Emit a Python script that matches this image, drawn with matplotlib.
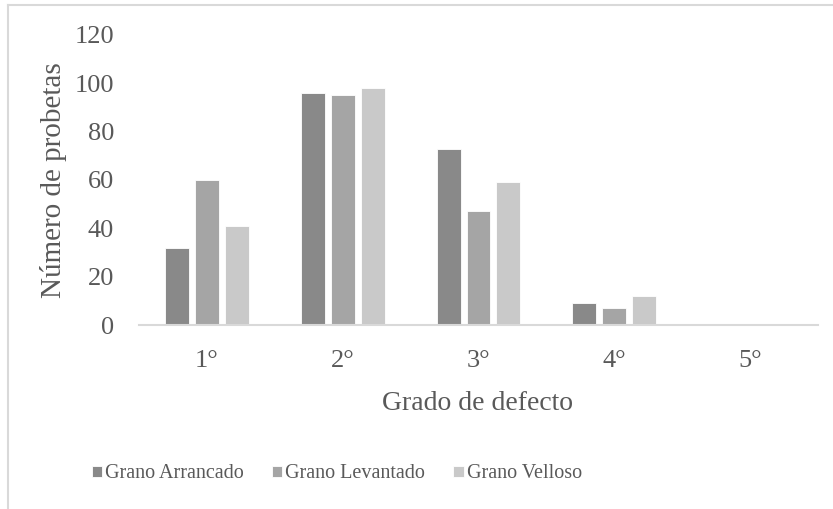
import numpy as np
import matplotlib.pyplot as plt
from matplotlib.lines import Line2D

plt.rcParams['font.family'] = ['Liberation Serif', 'DejaVu Serif']

grados = ['1°', '2°', '3°', '4°', '5°']
series = ['Grano Arrancado', 'Grano Levantado', 'Grano Velloso']
arrancado = [32, 96, 73, 9, 0]
levantado = [60, 95, 47, 7, 0]
velloso = [41, 98, 59, 12, 0]
colores = ['#898989', '#a5a5a5', '#c9c9c9']
texto = '#595959'

fig = plt.figure(figsize=(8.33, 5.09), dpi=100)
ax = fig.add_axes([139/833, 1 - 325/509, 679/833, 290/509])

x = np.arange(len(grados))
ancho = 0.176
paso = 0.22
for k, (vals, nombre) in enumerate(zip([arrancado, levantado, velloso], series)):
    ax.bar(x + (k - 1) * paso, vals, width=ancho, color=colores[k],
           edgecolor='white', linewidth=0.6, label=nombre, zorder=2)

ax.set_xlim(-0.5, len(grados) - 0.5)
ax.set_ylim(0, 120)
ax.set_yticks(range(0, 121, 20))
ax.set_xticks(x)
ax.set_xticklabels(grados)
ax.tick_params(axis='both', length=0, labelsize=19, labelcolor=texto)
ax.tick_params(axis='y', pad=18)
ax.tick_params(axis='x', pad=18)

for s in ['top', 'right', 'left']:
    ax.spines[s].set_visible(False)
ax.spines['bottom'].set_color('#d9d9d9')
ax.spines['bottom'].set_linewidth(1.5)

ax.set_ylabel('Número de probetas', fontsize=21, color=texto)
ax.yaxis.set_label_coords(-0.106, 0.5)
ax.set_xlabel('Grado de defecto', fontsize=20, color=texto)
ax.xaxis.set_label_coords(0.499, -0.228)

fig.legend(loc='center', bbox_to_anchor=(337/833, 1 - 474/509), ncol=3,
           frameon=False, fontsize=14.5, labelcolor=texto,
           handlelength=0.5, handleheight=0.5, handletextpad=0.15,
           columnspacing=1.4)

# marco del área del gráfico
fig.add_artist(Line2D([8/833, 8/833], [0, 1 - 5/509], transform=fig.transFigure,
                      color='#d9d9d9', linewidth=1.5))
fig.add_artist(Line2D([8/833, 1], [1 - 5/509, 1 - 5/509], transform=fig.transFigure,
                      color='#d9d9d9', linewidth=1.5))

fig.savefig('out.png', dpi=100)
